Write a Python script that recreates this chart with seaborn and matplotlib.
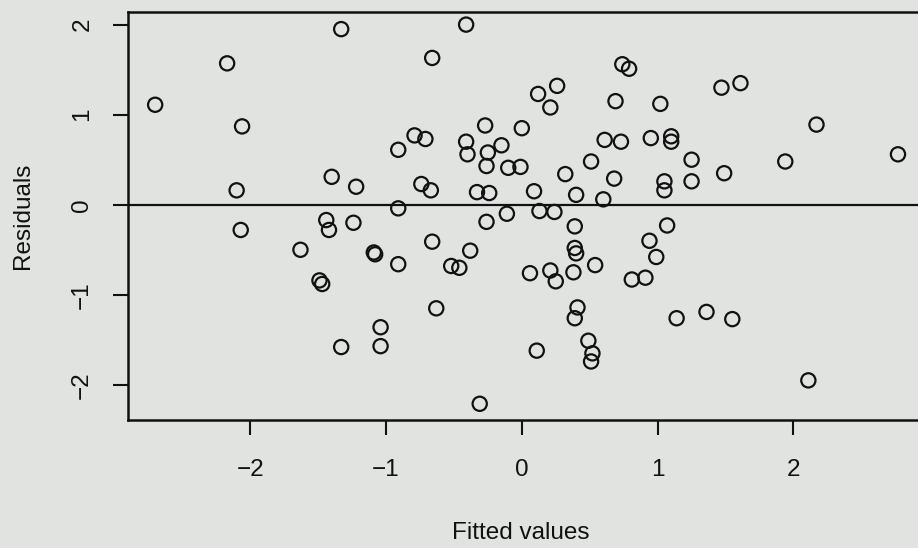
import pandas as pd
import numpy as np
import matplotlib
matplotlib.use("Agg")
import matplotlib.pyplot as plt
import seaborn as sns

fitted = [
    -2.70, -2.17, -2.06, -2.10, -2.07, -1.63, -1.33, -0.41, -0.66, 0.74,
    0.79, 0.12, 0.26, 0.21, 0.69, -0.27, 0.00, -0.79, -0.71, -0.91,
    -0.41, -0.40, -0.25, -0.15, -0.26, -0.10, -0.01, 0.61, 0.73, -1.40,
    -1.22, -0.74, -0.67, -0.33, -0.24, 0.09, 0.32, 0.51, 0.68, 0.40,
    0.60, -0.91, -1.44, -1.42, -1.24, -0.26, -0.11, 0.13, 0.24, 0.39,
    -1.09, -1.08, -0.66, -0.38, -0.91, -0.52, -0.46, 0.39, 0.40, 0.54,
    -1.49, -1.47, 0.06, 0.21, 0.25, 0.38, -0.63, -1.04, -1.04, -1.33,
    0.11, 0.41, 0.39, 0.49, 0.52, 0.51, -0.31, 1.47, 1.61, 1.02,
    2.17, 0.95, 1.10, 1.10, 1.25, 1.94, 2.77, 1.05, 1.05, 1.25,
    1.49, 1.07, 0.94, 0.99, 0.81, 0.91, 1.14, 1.36, 1.55, 2.11,
]
residuals = [
    1.11, 1.57, 0.87, 0.16, -0.28, -0.50, 1.95, 2.00, 1.63, 1.56,
    1.51, 1.23, 1.32, 1.08, 1.15, 0.88, 0.85, 0.77, 0.73, 0.61,
    0.70, 0.56, 0.58, 0.66, 0.43, 0.41, 0.42, 0.72, 0.70, 0.31,
    0.20, 0.23, 0.16, 0.14, 0.13, 0.15, 0.34, 0.48, 0.29, 0.11,
    0.06, -0.04, -0.17, -0.28, -0.20, -0.19, -0.10, -0.07, -0.08, -0.24,
    -0.53, -0.55, -0.41, -0.51, -0.66, -0.68, -0.70, -0.48, -0.54, -0.67,
    -0.84, -0.88, -0.76, -0.73, -0.85, -0.75, -1.15, -1.36, -1.57, -1.58,
    -1.62, -1.14, -1.26, -1.51, -1.65, -1.74, -2.21, 1.30, 1.35, 1.12,
    0.89, 0.74, 0.76, 0.70, 0.50, 0.48, 0.56, 0.26, 0.16, 0.26,
    0.35, -0.23, -0.40, -0.58, -0.83, -0.81, -1.26, -1.19, -1.27, -1.95,
]
x_ticks = [-2, -1, 0, 1, 2]
y_ticks = [-2, -1, 0, 1, 2]

df = pd.DataFrame({"Fitted values": fitted, "Residuals": residuals})

paper = "#e1e3e1"
ink = "#111111"

sns.set_style("ticks")
plt.rcParams["font.family"] = ["Liberation Sans", "DejaVu Sans"]

fig = plt.figure(figsize=(9.18, 5.48), dpi=100, facecolor=paper)
# axes run off the right edge of the photo, like the cropped page
ax = fig.add_axes([128 / 918, 128 / 548, 808 / 918, 408 / 548])
ax.set_facecolor(paper)

sns.scatterplot(data=df, x="Fitted values", y="Residuals", ax=ax,
                marker="o", s=105, facecolors="none", edgecolor=ink,
                linewidth=1.6, zorder=3)
ax.axhline(0, color=ink, linewidth=1.6, zorder=2)

ax.set_xlim(-2.90, 3.05)
ax.set_ylim(-2.39, 2.14)
ax.set_xticks(x_ticks)
ax.set_yticks(y_ticks)
ax.set_xticklabels([str(t).replace("-", "\u2212") for t in x_ticks])
ax.set_yticklabels([str(t).replace("-", "\u2212") for t in y_ticks],
                   rotation=90, va="center")

for side in ["left", "bottom", "top", "right"]:
    ax.spines[side].set_linewidth(1.8)
    ax.spines[side].set_color(ink)

ax.tick_params(axis="both", length=11, width=1.5, color=ink,
               labelsize=17.5, labelcolor=ink)
ax.tick_params(axis="x", pad=17)
ax.tick_params(axis="y", pad=14)

ax.set_xlabel("Fitted values", fontsize=17.5, color=ink)
ax.set_ylabel("Residuals", fontsize=17.5, color=ink)
ax.xaxis.label.set_va("center")
ax.yaxis.label.set_va("center")
ax.xaxis.set_label_coords((521 - 128) / 808, -(533 - 420) / 408)
ax.yaxis.set_label_coords(-(128 - 23) / 808, 0.5)

fig.savefig("out.png", dpi=100, facecolor=paper)
